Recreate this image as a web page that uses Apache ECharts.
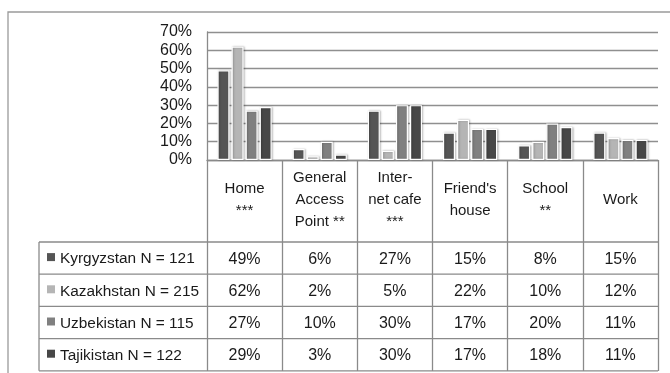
<!DOCTYPE html>
<html><head><meta charset="utf-8">
<script src="https://cdn.jsdelivr.net/npm/echarts@6/dist/echarts.min.js"></script>
<style>html,body{margin:0;padding:0;background:#fff}#c{width:670px;height:373px}</style>
</head><body><div id="c"></div>
<script>
const categories = ["Home\n***", "General\nAccess\nPoint **", "Inter-\nnet cafe\n***", "Friend's\nhouse", "School\n**", "Work"];
const seriesNames = ["Kyrgyzstan N = 121", "Kazakhstan N = 215", "Uzbekistan N = 115", "Tajikistan N = 122"];
const kyrgyzstan = [49, 6, 27, 15, 8, 15];
const kazakhstan = [62, 2, 5, 22, 10, 12];
const uzbekistan = [27, 10, 30, 17, 20, 11];
const tajikistan = [29, 3, 30, 17, 18, 11];
const yTicks = [0, 10, 20, 30, 40, 50, 60, 70];
const colors = ["#555555", "#b5b5b5", "#808080", "#474747"];
const allSeries = [kyrgyzstan, kazakhstan, uzbekistan, tajikistan];

const FONT = "Liberation Sans";
const chart = echarts.init(document.getElementById('c'));
const gridL = 207, gridR = 12, gridT = 32, gridB = 213;
const headerBottom = 242, rowH = 32.2, tableLeft = 39;

chart.setOption({
  animation: false,
  backgroundColor: '#ffffff',
  textStyle: {fontFamily: FONT},
  grid: {left: gridL, right: gridR, top: gridT, bottom: gridB},
  xAxis: {
    type: 'category', data: categories,
    axisLine: {show: true, lineStyle: {color: '#8a8a8a', width: 1.3}},
    axisTick: {show: true, length: 211, lineStyle: {color: '#8a8a8a', width: 1.3}},
    axisLabel: {margin: 40, verticalAlign: 'middle', color: '#1a1a1a', fontSize: 15, lineHeight: 22, fontFamily: FONT, interval: 0},
    splitLine: {show: false}
  },
  yAxis: {
    type: 'value', min: yTicks[0], max: yTicks[yTicks.length - 1], interval: 10,
    axisLine: {show: true, lineStyle: {color: '#8a8a8a', width: 1.3}},
    axisTick: {show: false},
    axisLabel: {formatter: '{value}%', color: '#1a1a1a', fontSize: 16, margin: 15, fontFamily: FONT},
    splitLine: {show: true, lineStyle: {color: '#8f8f8f', width: 1.4}}
  },
  series: allSeries.map((d, i) => ({
    type: 'bar', name: seriesNames[i], data: d,
    barWidth: '16%', barGap: '17%',
    itemStyle: {color: colors[i], borderColor: '#ffffff', borderWidth: 1.2,
      shadowColor: 'rgba(0,0,0,0.25)', shadowBlur: 2, shadowOffsetX: 1, shadowOffsetY: 0}
  }))
});

// Data table below the axis, built from the arrays and the axis scale
const gridRight = 670 - gridR;
const els = [];
const lineStyle = {stroke: '#8a8a8a', lineWidth: 1.3};
els.push({type: 'rect', shape: {x: 8, y: 12, width: 700, height: 400}, style: {fill: 'none', stroke: '#9a9a9a', lineWidth: 1.3}, silent: true});
for (let r = 0; r <= seriesNames.length; r++) {
  const y = headerBottom + r * rowH;
  els.push({type: 'line', shape: {x1: tableLeft, y1: y, x2: gridRight, y2: y}, style: lineStyle});
}
els.push({type: 'line', shape: {x1: tableLeft, y1: headerBottom, x2: tableLeft, y2: headerBottom + seriesNames.length * rowH}, style: lineStyle});
seriesNames.forEach((name, r) => {
  const cy = headerBottom + (r + 0.5) * rowH;
  els.push({type: 'rect', shape: {x: tableLeft + 8, y: cy - 5, width: 8, height: 8}, style: {fill: colors[r]}});
  els.push({type: 'text', x: tableLeft + 21, y: cy + 1, style: {text: name, font: '15.4px "' + FONT + '"', fill: '#1a1a1a', verticalAlign: 'middle', align: 'left'}});
  allSeries[r].forEach((v, c) => {
    const x = chart.convertToPixel({xAxisIndex: 0}, c);
    els.push({type: 'text', x: x, y: cy + 1, style: {text: v + '%', font: '16px "' + FONT + '"', fill: '#1a1a1a', verticalAlign: 'middle', align: 'center'}});
  });
});
chart.setOption({graphic: {elements: els}});
</script></body></html>
